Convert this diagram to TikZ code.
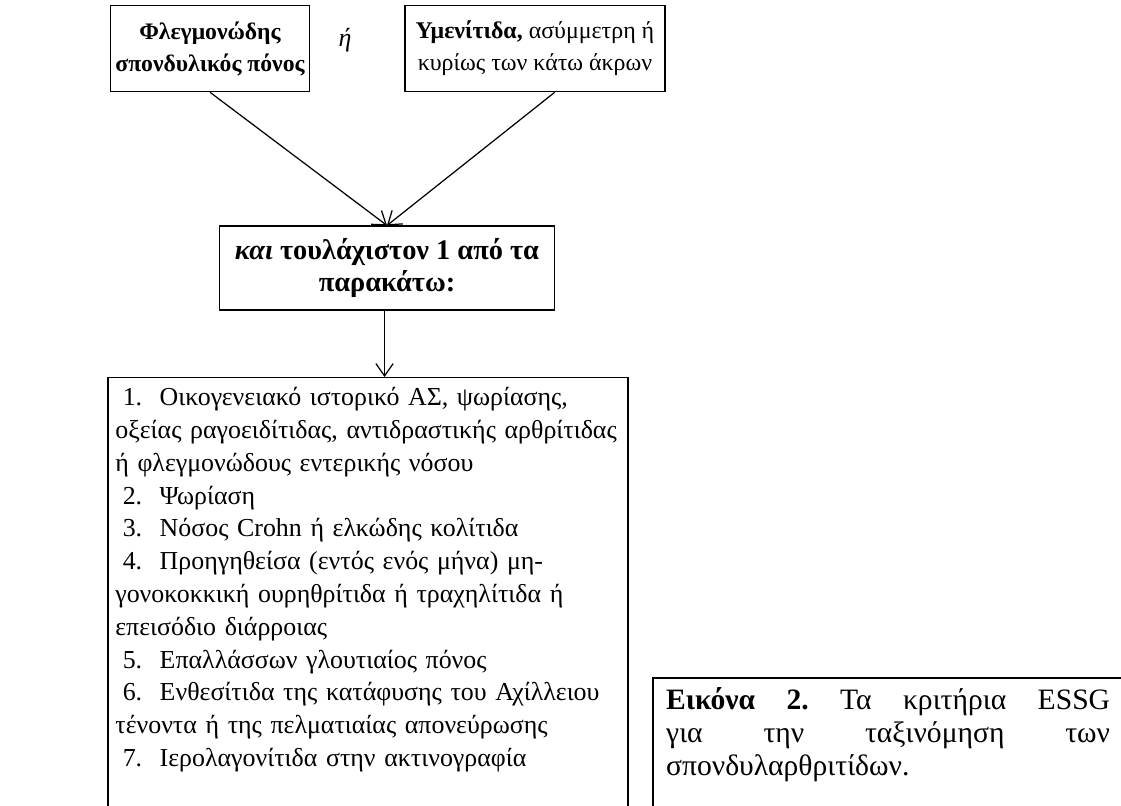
\documentclass[tikz,border=0pt]{standalone}
\usepackage{fontspec}
\setmainfont{Liberation Serif}
\usetikzlibrary{arrows.meta,positioning}

\newcommand{\critfont}{\fontsize{10.5}{13.3}\selectfont\frenchspacing}
\newcommand{\critnum}[1]{\hspace*{3pt}\makebox[15pt][l]{#1}}

\tikzset{
  critbox/.style={draw, align=center, minimum height=35pt, inner xsep=1pt, inner ysep=2pt,
                  font=\fontsize{9.7}{13}\selectfont},
  listbox/.style={draw, align=left, text width=204.9pt, inner xsep=3pt, inner ysep=4pt,
                  font=\critfont},
  capbox/.style={draw, line width=0.9pt, align=justify, text width=180pt,
                 inner xsep=5.3pt, inner ysep=4pt,
                 font=\fontsize{12}{13.3}\selectfont\frenchspacing}
}

\begin{document}
\begin{tikzpicture}[x=0.4055pt, y=-0.4055pt, line width=0.5pt,
                    >={Straight Barb[length=5pt,width=7pt]}]
  \useasboundingbox (0,0) rectangle (1121,805);

  % entry criteria
  \node[critbox, minimum width=81pt, font=\fontsize{9.6}{13}\selectfont\bfseries] (spine) at (210,48.5)
       {Φλεγμονώδης\\σπονδυλικός πόνος};
  \node[font=\critfont\itshape] (either) at (345,40) {ή};
  \node[critbox, minimum width=105.4pt] (synov) at (535,48.5)
       {\textbf{Υμενίτιδα,} ασύμμετρη ή\\κυρίως των κάτω άκρων};

  % at least one of the following
  \node[critbox, minimum width=136pt, minimum height=34pt, font=\fontsize{11.5}{13.3}\selectfont\bfseries]
       (plus) at (387,268) {\textit{και} τουλάχιστον 1 από τα\\παρακάτω:};

  % list of criteria
  \node[listbox, anchor=north] (items) at (368,377) {%
    \critnum{1.}Οικογενειακό ιστορικό ΑΣ, ψωρίασης,\\
    οξείας ραγοειδίτιδας, αντιδραστικής αρθρίτιδας\\
    ή φλεγμονώδους εντερικής νόσου\\
    \critnum{2.}Ψωρίαση\\
    \critnum{3.}Νόσος Crohn ή ελκώδης κολίτιδα\\
    \critnum{4.}Προηγηθείσα (εντός ενός μήνα) μη-\\
    γονοκοκκική ουρηθρίτιδα ή τραχηλίτιδα ή\\
    επεισόδιο διάρροιας\\
    \critnum{5.}Επαλλάσσων γλουτιαίος πόνος\\
    \critnum{6.}Ενθεσίτιδα της κατάφυσης του Αχίλλειου\\
    τένοντα ή της πελματιαίας απονεύρωσης\\
    \critnum{7.}Ιερολαγονίτιδα στην ακτινογραφία\\[30pt]\mbox{}};

  % caption
  \node[capbox, anchor=north west] (caption) at (652,677) {%
    {\bfseries Εικόνα 2.} Τα κριτήρια ESSG\linebreak
    για την ταξινόμηση των\linebreak
    σπονδυλαρθριτίδων.\\[30pt]\mbox{}};

  \draw[->] (spine.south) -- (plus.north);
  \draw[->] ([xshift=8pt]synov.south) -- (plus.north);
  \draw[->] ([xshift=-1pt]plus.south) -- ([xshift=-1pt]plus.south |- items.north);
\end{tikzpicture}
\end{document}
